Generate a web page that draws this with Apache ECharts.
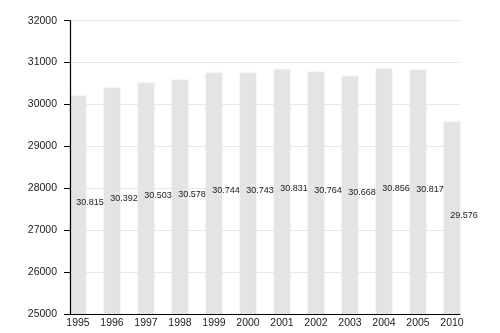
<!DOCTYPE html>
<html><head><meta charset="utf-8">
<script src="https://cdn.jsdelivr.net/npm/echarts@6/dist/echarts.min.js"></script>
<style>html,body{margin:0;padding:0;background:#fff}#c{width:500px;height:333px}</style>
</head><body><div id="c"></div>
<script>
const categories = ['1995','1996','1997','1998','1999','2000','2001','2002','2003','2004','2005','2010'];
const values = [30200, 30392, 30503, 30578, 30744, 30743, 30831, 30764, 30668, 30856, 30817, 29576];
const barLabels = ['30.815','30.392','30.503','30.578','30.744','30.743','30.831','30.764','30.668','30.856','30.817','29.576'];
const yTicks = [25000, 26000, 27000, 28000, 29000, 30000, 31000, 32000];

const chart = echarts.init(document.getElementById('c'), null, {renderer: 'canvas'});
const idx = categories.map((_, i) => i);
const yMin = yTicks[0], yMax = yTicks[yTicks.length - 1];
chart.setOption({
  animation: false,
  grid: {left: 70, right: 40, top: 20.7, bottom: 19},
  xAxis: {
    type: 'value', min: -0.235, max: 11.235, z: 5,
    axisLine: {show: true, onZero: false, lineStyle: {color: '#000', width: 1.2}},
    axisTick: {show: false},
    splitLine: {show: false},
    axisLabel: {
      customValues: idx,
      formatter: v => categories[Math.round(v)],
      color: '#222', fontSize: 10.5, margin: 4, fontFamily: 'Liberation Sans, Arial, sans-serif'
    }
  },
  yAxis: [{
    type: 'value', min: yMin, max: yMax, interval: 1000, z: 0,
    axisLine: {show: false, onZero: false},
    axisTick: {show: false},
    axisLabel: {show: false},
    splitLine: {show: true, lineStyle: {color: '#e8e8e8', width: 1}}
  }, {
    type: 'value', min: yMin, max: yMax, interval: 1000, z: 5, position: 'left',
    axisLine: {show: true, onZero: false, lineStyle: {color: '#000', width: 1.2}},
    axisTick: {show: true, length: 6, lineStyle: {color: '#000'}},
    splitLine: {show: false},
    axisLabel: {formatter: v => String(v), color: '#222', fontSize: 10.5, margin: 13, fontFamily: 'Liberation Sans, Arial, sans-serif'}
  }],
  series: [{
    type: 'bar',
    barWidth: 16,
    yAxisIndex: 0,
    z: 2,
    data: values.map((v, i) => [i, v]),
    itemStyle: {color: '#e4e4e4', shadowColor: 'rgba(220,220,220,0.8)', shadowBlur: 2},
    label: {
      show: true, position: 'inside', offset: [12, -3],
      formatter: p => barLabels[p.dataIndex],
      color: '#222', fontSize: 9, fontFamily: 'Liberation Sans, Arial, sans-serif'
    }
  }]
});
</script></body></html>
